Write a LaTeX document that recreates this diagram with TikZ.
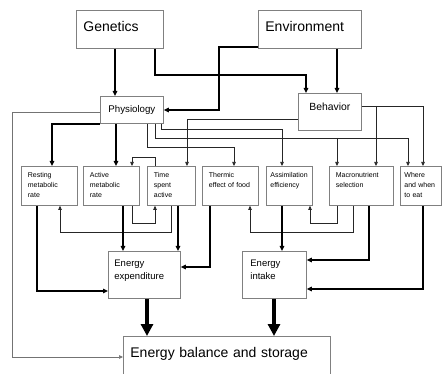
\documentclass[tikz,border=0pt]{standalone}
\usepackage{fontspec}
\setmainfont{Liberation Sans}
\usetikzlibrary{arrows.meta}

\begin{document}
\begin{tikzpicture}[x=1pt,y=-1pt,
  box/.style={draw=black!50, line width=.8pt, anchor=north west, align=left},
  bigbox/.style={box, font=\fontsize{14}{16}\selectfont, inner xsep=7pt, inner ysep=8pt, text height=13.5pt},
  midbox/.style={box, font=\fontsize{9.5}{13}\selectfont, inner xsep=6pt, inner ysep=4pt, text height=11pt, text depth=28pt},
  smallbox/.style={box, font=\fontsize{7}{10}\selectfont, inner xsep=6.5pt, inner ysep=4pt, text height=7pt, text depth=24pt},
  flow/.style={draw=black!85, line width=.7pt, -{Triangle[length=4pt,width=3.5pt]}},
  strong/.style={line width=1.6pt, -{Triangle[length=5pt,width=4.5pt]}},
  bigflow/.style={line width=4pt, -{Triangle[length=12pt,width=12pt]}}]
\useasboundingbox (0,0) rectangle (442,374);

% top level
\node[bigbox, text width=73pt, text depth=8.5pt] (gen) at (76,10) {Genetics};
\node[bigbox, text width=89pt, text depth=8.5pt] (env) at (258,10) {Environment};
\node[box, font=\fontsize{9.7}{12}\selectfont, align=center, minimum width=63pt, minimum height=27pt] (phys) at (100,96) {Physiology};
\node[box, font=\fontsize{10.4}{12}\selectfont, align=center, inner xsep=4pt, inner ysep=5pt, text width=55pt, text height=12pt, text depth=15pt] (beh) at (298,93) {Behavior};

% middle row
\node[smallbox, text width=43pt] (rest) at (21,166) {Resting\\metabolic\\rate};
\node[smallbox, text width=43pt] (act) at (83,166) {Active\\metabolic\\rate};
\node[smallbox, text width=35pt] (time) at (147,166) {Time\\spent\\active};
\node[smallbox, text width=43pt] (therm) at (202,166) {Thermic\\effect of food};
\node[smallbox, inner xsep=4pt, text width=38pt] (assim) at (266,166) {Assimilation\\efficiency};
\node[smallbox, text width=51pt] (macro) at (329,166) {Macronutrient\\selection};
\node[smallbox, inner xsep=4pt, text width=33pt] (where) at (400,166) {Where\\and when\\to eat};

% bottom
\node[midbox, text width=60pt] (ee) at (108,251) {Energy\\expenditure};
\node[midbox, inner xsep=8pt, text width=48pt] (ei) at (242,251) {Energy\\intake};
\node[bigbox, text width=193pt, text depth=40.5pt] (eb) at (123,336) {Energy balance and storage};

\draw[strong] (115,0 |- gen.south) -- (115,0 |- phys.north);
\draw[strong] (155,0 |- gen.south) |- (306,75) -- (306,0 |- beh.north);
\draw[strong] (337,0 |- env.south) -- (337,0 |- beh.north);
\draw[strong] ([yshift=1.5pt]env.south west) -| (219,110) -- (0,110 -| phys.east);

\draw[strong] (phys.south west) -| (52,0 |- rest.north);
\draw[strong] (116,0 |- phys.south) -- (116,0 |- act.north);
\draw[flow] (147,0 |- phys.south) |- (234,147) -- (234,0 |- therm.north);
\draw[flow] (155,0 |- phys.south) |- (408,138) -- (408,0 |- where.north);
\draw[flow] (337,138) -- (337,0 |- macro.north);
\draw[flow] (161,0 |- phys.south) |- (282,129) -- (282,0 |- assim.north);
\draw[flow] (0,119 -| beh.west) -| (187,0 |- time.north);
\draw[flow] (0,106 -| beh.east) -| (423,0 |- where.north);
\draw[flow] (376,106) -- (376,0 |- macro.north);
\draw[flow] (155,0 |- time.north) |- (132,157) -- (132,0 |- act.north);
\draw[flow, draw=black!55] (0,112 -| phys.west) -| (12,357) -- (0,357 -| eb.west);

\draw[strong] (37,0 |- rest.south) |- (0,291 -| ee.west);
\draw[flow] (171,0 |- time.south) |- (60,232) -- (60,0 |- rest.south);
\draw[strong] (123,0 |- act.south) -- (123,0 |- ee.north);
\draw[flow] (132,0 |- act.south) |- (155,223) -- (155,0 |- time.south);
\draw[strong] (178,0 |- time.south) -- (178,0 |- ee.north);
\draw[strong] (210,0 |- therm.south) |- (0,267 -| ee.east);
\draw[flow] (353,0 |- macro.south) |- (250,232) -- (250,0 |- therm.south);
\draw[strong] (282,0 |- assim.south) -- (282,0 |- ei.north);
\draw[flow] (337,0 |- macro.south) |- (310,223) -- (310,0 |- assim.south);
\draw[strong] (369,0 |- macro.south) |- (0,260 -| ei.east);
\draw[strong] (423,0 |- where.south) |- (0,289 -| ei.east);

\draw[bigflow] (147,0 |- ee.south) -- (147,0 |- eb.north);
\draw[bigflow] (274,0 |- ei.south) -- (274,0 |- eb.north);
\end{tikzpicture}
\end{document}
